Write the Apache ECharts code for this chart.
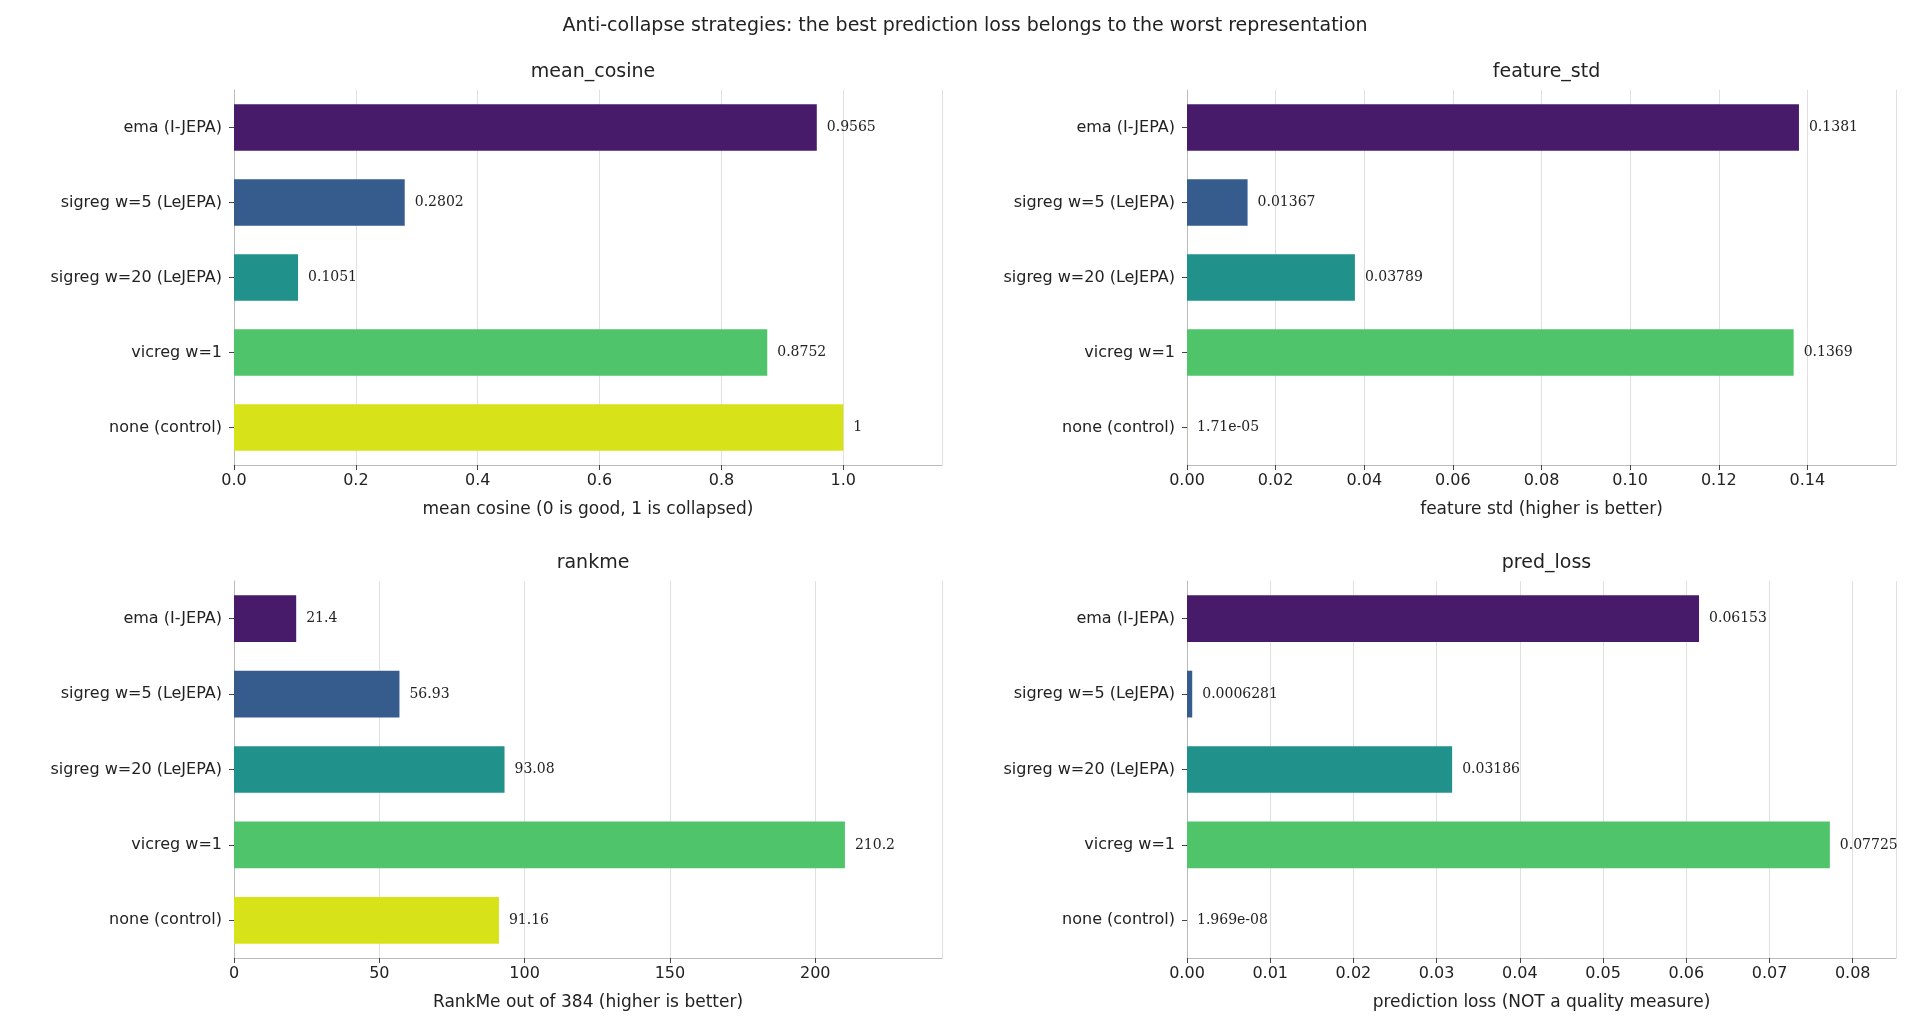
<!DOCTYPE html>
<html><head><meta charset="utf-8">
<script src="https://cdn.jsdelivr.net/npm/echarts@6/dist/echarts.min.js"></script>
<style>html,body{margin:0;padding:0;background:#fff}#c{width:1930px;height:1036px}</style>
</head><body><div id="c"></div>
<script>
const categories = ["ema (I-JEPA)","sigreg w=5 (LeJEPA)","sigreg w=20 (LeJEPA)","vicreg w=1","none (control)"];
const colors = ["#471a6a","#365c8d","#21918c","#4fc46a","#d8e219"];
const meanCosine = [0.9565,0.2802,0.1051,0.8752,1];
const meanCosineLabels = ["0.9565","0.2802","0.1051","0.8752","1"];
const featureStd = [0.1381,0.01367,0.03789,0.1369,0.0000171];
const featureStdLabels = ["0.1381","0.01367","0.03789","0.1369","1.71e-05"];
const rankme = [21.4,56.93,93.08,210.2,91.16];
const rankmeLabels = ["21.4","56.93","93.08","210.2","91.16"];
const predLoss = [0.06153,0.0006281,0.03186,0.07725,1.969e-8];
const predLossLabels = ["0.06153","0.0006281","0.03186","0.07725","1.969e-08"];

const panels = [
 {title:"mean_cosine", x:"mean cosine (0 is good, 1 is collapsed)", d:meanCosine, l:meanCosineLabels, max:1.162, iv:0.2, dec:1},
 {title:"feature_std", x:"feature std (higher is better)", d:featureStd, l:featureStdLabels, max:0.16, iv:0.02, dec:2},
 {title:"rankme", x:"RankMe out of 384 (higher is better)", d:rankme, l:rankmeLabels, max:243.6, iv:50, dec:0},
 {title:"pred_loss", x:"prediction loss (NOT a quality measure)", d:predLoss, l:predLossLabels, max:0.0852, iv:0.01, dec:2}
];
const boxes = [[234,90,942,465],[1187,90,1896,465],[234,581,942,958],[1187,581,1896,958]];
const chart = echarts.init(document.getElementById('c'));
const opt = {animation:false, title:[{text:"Anti-collapse strategies: the best prediction loss belongs to the worst representation",left:'center',top:12,textStyle:{fontFamily:'DejaVu Sans',fontSize:19,fontWeight:'normal',color:'#222'}}],
 grid:[],xAxis:[],yAxis:[],series:[]};
panels.forEach((p,i)=>{
 const b=boxes[i];
 opt.grid.push({left:b[0],top:b[1],width:b[2]-b[0],height:b[3]-b[1]});
 opt.title.push({text:p.title,left:(b[0]+b[2])/2,textAlign:'center',top:b[1]-32,textStyle:{fontFamily:'DejaVu Sans',fontSize:19,fontWeight:'normal',color:'#222'}});
 opt.xAxis.push({type:'value',gridIndex:i,min:0,max:p.max,interval:p.iv,name:p.x,nameLocation:'middle',nameGap:36,
  nameTextStyle:{fontFamily:'DejaVu Sans',fontSize:17,color:'#222'},
  axisLine:{show:true,lineStyle:{color:'#bbb'}},axisTick:{show:true,length:5,lineStyle:{color:'#444'}},
  axisLabel:{fontFamily:'DejaVu Sans',fontSize:16,color:'#222',showMaxLabel:false,formatter:v=>v.toFixed(p.dec)},
  splitLine:{show:true,lineStyle:{color:'#e0e0e0'}}});
 opt.yAxis.push({type:'category',gridIndex:i,data:categories,inverse:true,
  axisLine:{show:true,lineStyle:{color:'#bbb'}},axisTick:{show:true,length:5,alignWithLabel:true,lineStyle:{color:'#444'}},
  axisLabel:{fontFamily:'DejaVu Sans',fontSize:16,color:'#222',margin:12}});
 opt.series.push({type:'bar',xAxisIndex:i,yAxisIndex:i,barWidth:'62%',z:1,
  data:p.d.map((v,k)=>({value:v,itemStyle:{color:colors[k]}})),
  label:{show:true,position:'right',distance:10,fontFamily:'DejaVu Serif',fontSize:14,color:'#222',formatter:q=>p.l[q.dataIndex]}});
});
opt.series.forEach(s=>{}); 
chart.setOption(opt);
</script></body></html>
